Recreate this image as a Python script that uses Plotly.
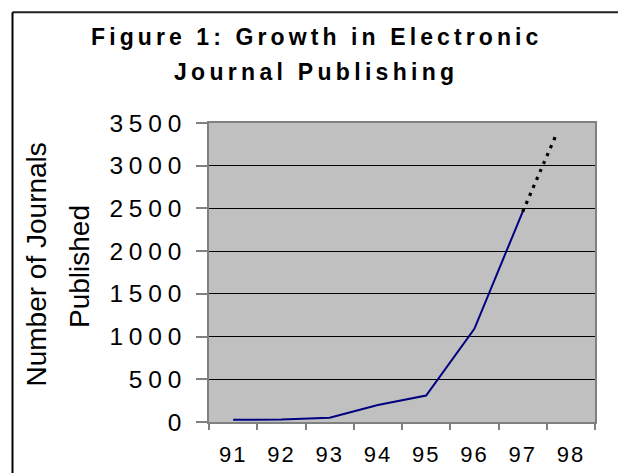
import plotly.graph_objects as go

# Electronic journals published per year (solid) and the projected rise (dotted)
years = [91, 92, 93, 94, 95, 96, 97]
journals = [25, 30, 50, 200, 310, 1090, 2460]
proj_years = [97, 97.7]
proj_journals = [2460, 3370]

x_tick_vals = [91, 92, 93, 94, 95, 96, 97, 98]
x_tick_labels = ["91", "92", "93", "94", "95", "96", "97", "98"]
y_tick_vals = [0, 500, 1000, 1500, 2000, 2500, 3000, 3500]

title_lines = ["Figure 1: Growth in Electronic", "Journal Publishing"]
y_title_lines = ["Number of Journals", "Published"]

FONT = "Liberation Sans, Arial, sans-serif"

# plot-area geometry in pixels, used to place free text in paper units
W, H = 618, 473
L, R, T, B = 209, 23, 123, 51
PW, PH = W - L - R, H - T - B


def px_x(x):
    return (x - L) / PW


def px_y(y):
    return (H - B - y) / PH


def spaced(text, sp):
    return f'<span style="letter-spacing:{sp}px">{text}</span>'


fig = go.Figure()
fig.add_trace(go.Scatter(
    x=years, y=journals, mode="lines",
    line=dict(color="#000080", width=2),
    hoverinfo="skip", showlegend=False,
))
fig.add_trace(go.Scatter(
    x=proj_years, y=proj_journals, mode="lines",
    line=dict(color="#000000", width=3.2, dash="3.2px,5.5px"),
    hoverinfo="skip", showlegend=False,
))

annotations = [
    dict(text="<b>" + spaced(title_lines[0], 4.1) + "</b>",
         x=px_x(316), y=px_y(36.7), xanchor="center", yanchor="middle"),
    dict(text="<b>" + spaced(title_lines[1], 4.3) + "</b>",
         x=px_x(316), y=px_y(71.7), xanchor="center", yanchor="middle"),
]
for a in annotations:
    a.update(xref="paper", yref="paper", showarrow=False,
             font=dict(family=FONT, size=23, color="#000000"))

for text, cx, cy in [(y_title_lines[0], 35.5, 265), (y_title_lines[1], 79.0, 267)]:
    annotations.append(dict(
        text=text, x=px_x(cx), y=px_y(cy), xref="paper", yref="paper",
        xanchor="center", yanchor="middle", textangle=-90, showarrow=False,
        font=dict(family=FONT, size=28, color="#000000"),
    ))

fig.update_layout(
    width=W, height=H,
    margin=dict(l=L, r=R, t=T, b=B, pad=0, autoexpand=False),
    paper_bgcolor="#FFFFFF",
    plot_bgcolor="#C0C0C0",
    annotations=annotations,
    shapes=[
        # outer chart frame (top and left edges)
        dict(type="line", xref="paper", yref="paper",
             x0=px_x(12.5), x1=px_x(W + 5), y0=px_y(12.2), y1=px_y(12.2),
             line=dict(color="#222222", width=2)),
        dict(type="line", xref="paper", yref="paper",
             x0=px_x(12.5), x1=px_x(12.5), y0=px_y(12.2), y1=px_y(H + 5),
             line=dict(color="#000000", width=2)),
    ],
    xaxis=dict(
        range=[90.5, 98.5],
        automargin=False,
        tickmode="array", tickvals=x_tick_vals,
        ticktext=[spaced(t, 2) for t in x_tick_labels],
        ticks="", showgrid=False, zeroline=False,
        showline=True, linecolor="#808080", linewidth=2, mirror=True,
        tickfont=dict(family=FONT, size=22, color="#000000"),
        ticklabelstandoff=12,
        minor=dict(tick0=90.5, dtick=1, ticks="outside", ticklen=6,
                   tickwidth=2, tickcolor="#808080", showgrid=False),
        fixedrange=True,
    ),
    yaxis=dict(
        range=[0, 3500],
        automargin=False,
        tickmode="array", tickvals=y_tick_vals,
        ticktext=[spaced(str(v), 5.8) for v in y_tick_vals],
        ticks="outside", ticklen=11, tickwidth=2, tickcolor="#808080",
        showgrid=True, gridcolor="#000000", gridwidth=1,
        zeroline=False,
        showline=True, linecolor="#808080", linewidth=2, mirror=True,
        tickfont=dict(family=FONT, size=24.5, color="#000000"),
        ticklabelstandoff=4,
        fixedrange=True,
    ),
)

fig.write_html("out.html", config={"displayModeBar": False})
